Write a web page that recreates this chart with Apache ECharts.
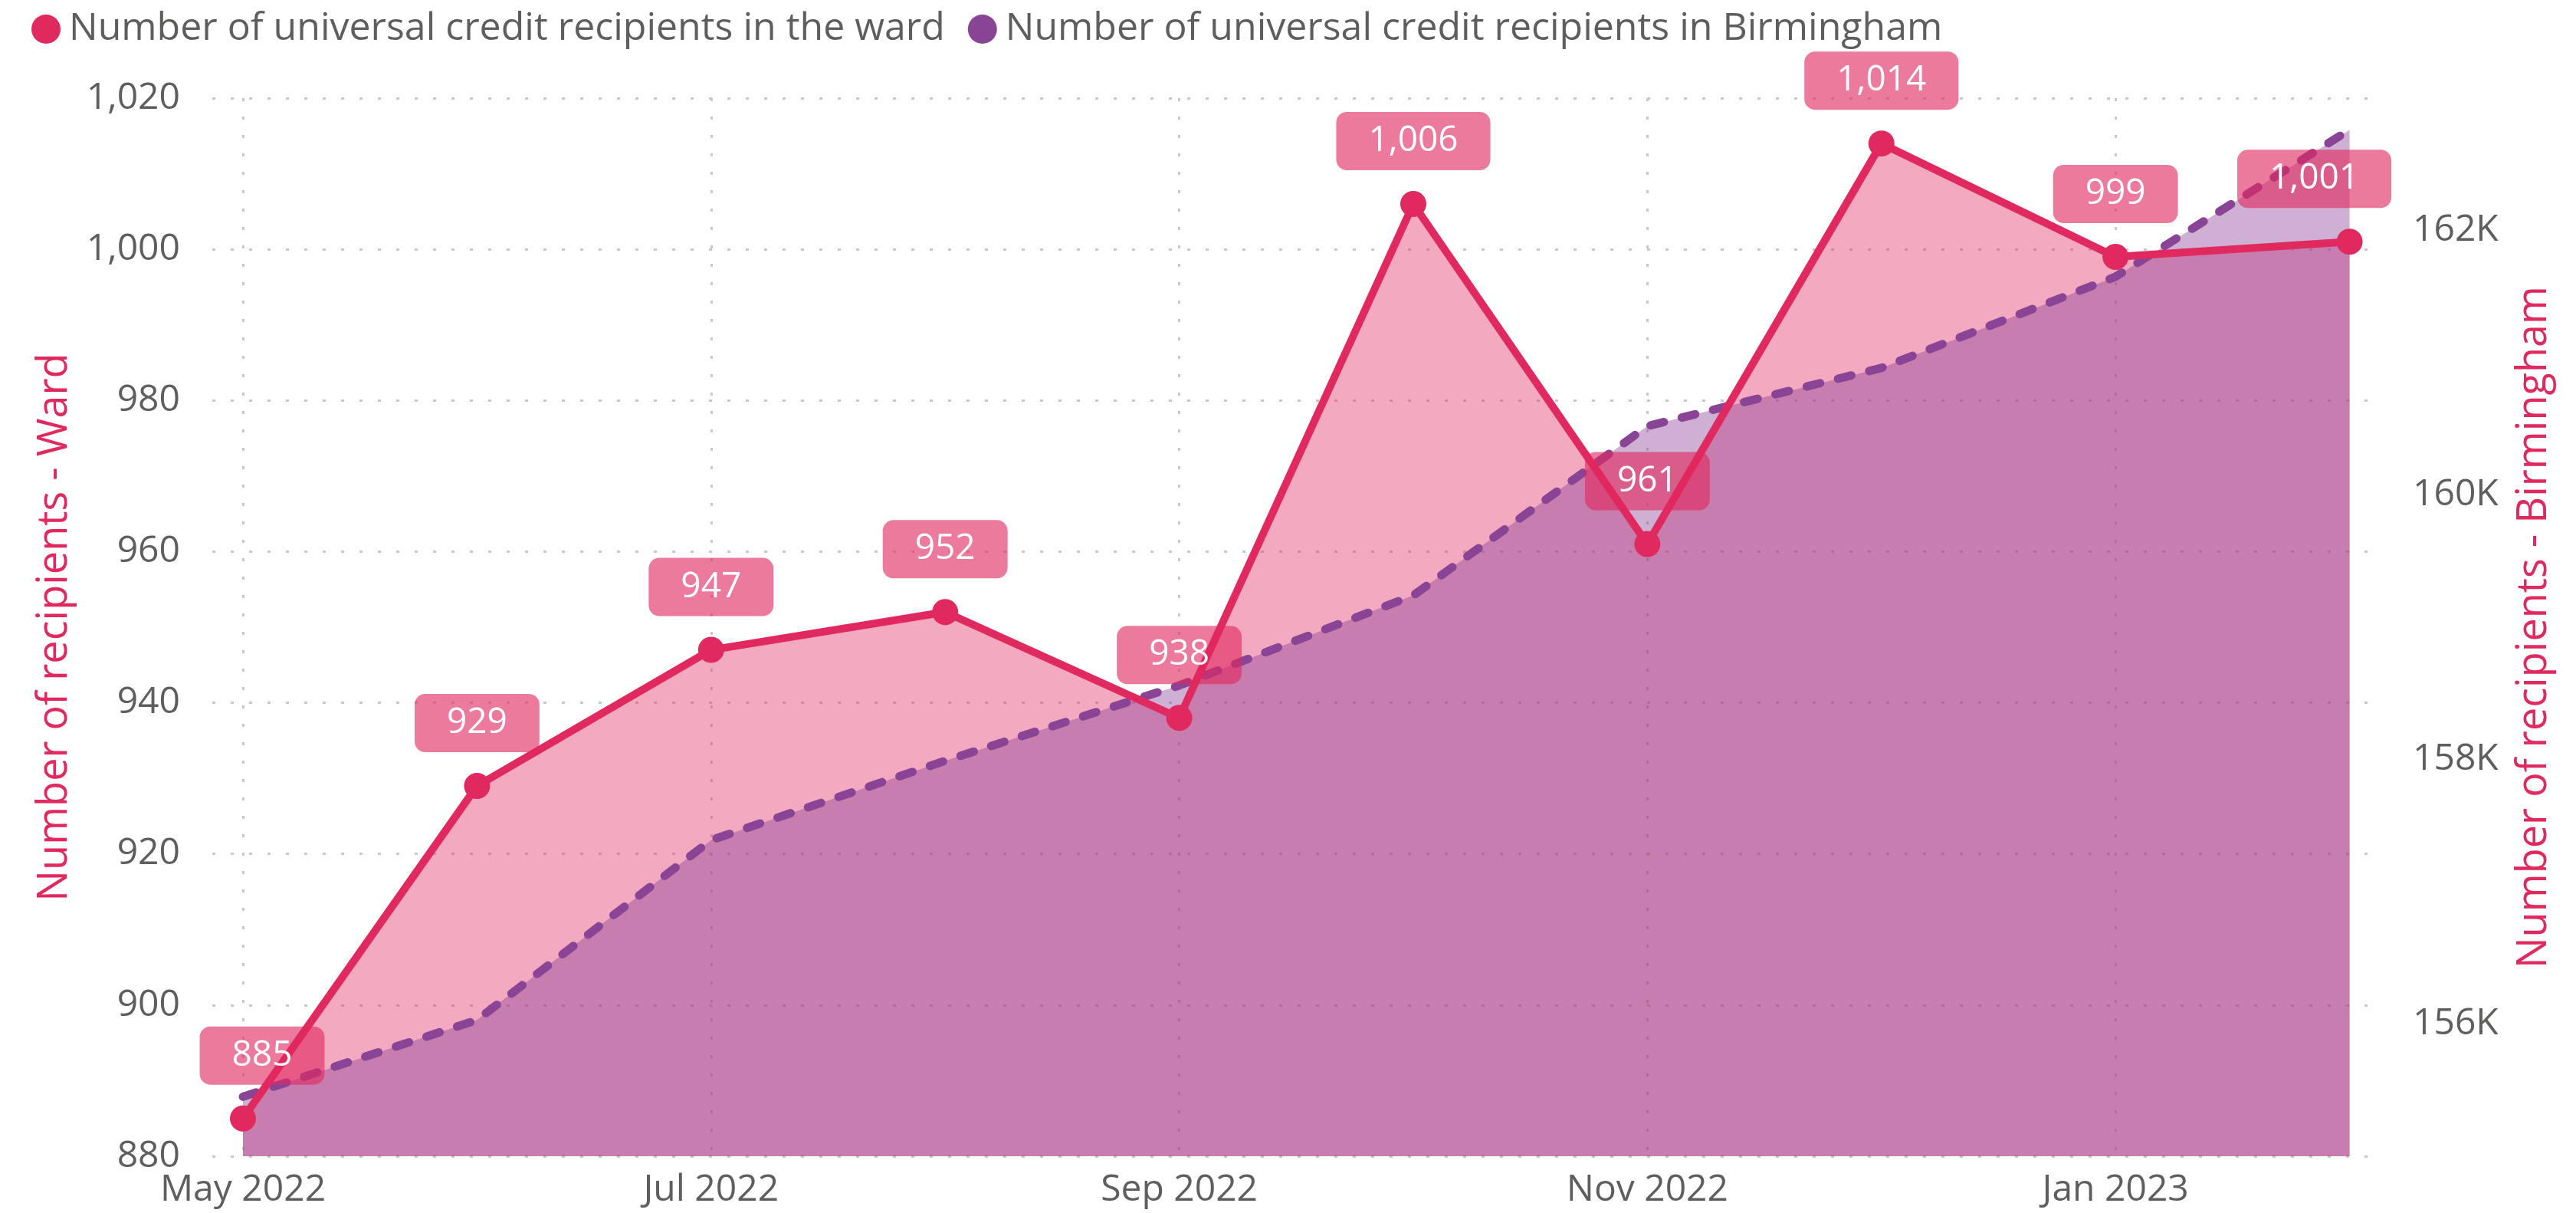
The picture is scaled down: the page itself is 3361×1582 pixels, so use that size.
<!DOCTYPE html>
<html>
<head>
<meta charset="utf-8">
<script src="https://cdn.jsdelivr.net/npm/echarts@6/dist/echarts.min.js"></script>
<style>
  html, body { margin: 0; padding: 0; background: #fff; }
  #chart { width: 3361px; height: 1582px; }
</style>
</head>
<body>
<div id="chart"></div>
<script>
// months on the x axis (only every other one gets a label)
const months = ['May 2022', 'Jun 2022', 'Jul 2022', 'Aug 2022', 'Sep 2022', 'Oct 2022',
                'Nov 2022', 'Dec 2022', 'Jan 2023', 'Feb 2023'];
// recipients in the ward (left axis)
const wardValues = [885, 929, 947, 952, 938, 1006, 961, 1014, 999, 1001];
// recipients in Birmingham (right axis)
const birminghamValues = [155450, 156030, 157390, 157990, 158560, 159240, 160520, 160960, 161650, 162760];

const wardName = 'Number of universal credit recipients in the ward';
const bhamName = 'Number of universal credit recipients in Birmingham';

const FONT = "'Segoe UI', 'Open Sans', sans-serif";
const PINK = '#e0295f';
const PURPLE = '#8a4496';
const GREY = '#605e5c';

const gridLine = { color: '#c8c8c8', width: 3, type: [4, 20] };

const chart = echarts.init(document.getElementById('chart'));

const last = wardValues.length - 1;
const wardPoints = wardValues.map((v, i) => {
    const item = { value: [i, v] };
    // keep the end labels inside the plot like the original
    if (i === 0) item.label = { offset: [25, 0] };
    if (i === last) item.label = { offset: [-46, 0] };
    return item;
});

const option = {
    backgroundColor: '#fff',
    textStyle: { fontFamily: FONT },
    legend: {
        left: 36,
        top: 8,
        icon: 'circle',
        itemWidth: 38,
        itemHeight: 38,
        itemGap: 30,
        data: [wardName, bhamName],
        textStyle: { fontSize: 50, color: GREY, fontFamily: FONT, padding: [0, 0, 0, 6] },
    },
    grid: { left: 277, right: 271, top: 128, bottom: 74 },
    xAxis: {
        type: 'value',
        min: -0.131,
        max: 9.08,
        axisLine: { show: false },
        axisTick: { show: false },
        axisLabel: {
            fontSize: 48,
            color: GREY,
            margin: 20,
            customValues: [0, 2, 4, 6, 8],
            formatter: v => (Number.isInteger(v) && months[v]) ? months[v] : '',
        },
        splitLine: {
            show: true,
            showMinLine: false,
            showMaxLine: false,
            lineStyle: gridLine,
        },
    },
    yAxis: [
        {
            type: 'value',
            min: 880,
            max: 1020,
            interval: 20,
            position: 'left',
            name: 'Number of recipients - Ward',
            nameLocation: 'middle',
            nameGap: 178,
            nameTextStyle: { fontSize: 54, color: PINK, fontFamily: FONT },
            axisLine: { show: false },
            axisTick: { show: false },
            axisLabel: {
                fontSize: 48,
                color: GREY,
                margin: 42,
                formatter: v => v.toLocaleString('en-US'),
            },
            splitLine: { show: true, lineStyle: gridLine },
        },
        {
            type: 'value',
            min: 155000,
            max: 163000,
            splitNumber: 4,
            position: 'right',
            name: 'Number of recipients - Birmingham',
            nameLocation: 'middle',
            nameGap: 190,
            nameTextStyle: { fontSize: 54, color: PINK, fontFamily: FONT },
            axisLine: { show: false },
            axisTick: { show: false },
            axisLabel: {
                fontSize: 48,
                color: GREY,
                margin: 58,
                formatter: v => (v % 2000 === 0 ? (v / 1000) + 'K' : ''),
            },
            splitLine: { show: false },
        },
    ],
    series: [
        {
            // ward line, markers and labels (on top of everything)
            name: wardName,
            type: 'line',
            yAxisIndex: 0,
            z: 4,
            data: wardPoints,
            symbol: 'circle',
            symbolSize: 34,
            itemStyle: { color: PINK },
            lineStyle: { color: PINK, width: 10 },
            label: {
                show: true,
                position: 'top',
                distance: 27,
                formatter: p => p.value[1].toLocaleString('en-US'),
                color: '#fff',
                fontSize: 46,
                lineHeight: 54,
                fontFamily: FONT,
                backgroundColor: 'rgba(224,41,95,0.62)',
                borderRadius: 14,
                padding: [11, 42],
            },
            emphasis: { disabled: true },
        },
        {
            // ward area, drawn underneath the Birmingham area
            name: wardName,
            type: 'line',
            yAxisIndex: 0,
            z: 1,
            data: wardValues.map((v, i) => [i, v]),
            showSymbol: false,
            symbol: 'none',
            lineStyle: { width: 0 },
            itemStyle: { color: PINK },
            areaStyle: { color: 'rgba(224,41,95,0.4)', opacity: 1, origin: 'start' },
            silent: true,
        },
        {
            name: bhamName,
            type: 'line',
            yAxisIndex: 1,
            z: 2,
            data: birminghamValues.map((v, i) => [i, v]),
            showSymbol: false,
            symbol: 'none',
            itemStyle: { color: PURPLE },
            lineStyle: { color: PURPLE, width: 11, type: [18, 24], cap: 'round' },
            areaStyle: { color: 'rgba(139,67,151,0.42)', opacity: 1, origin: 'start' },
            emphasis: { disabled: true },
        },
    ],
};

chart.setOption(option);
</script>
</body>
</html>
